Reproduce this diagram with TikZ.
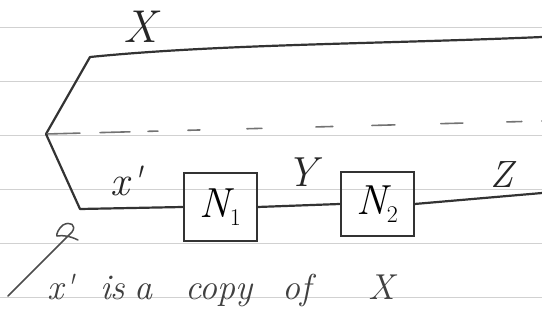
\documentclass[tikz,border=0pt]{standalone}
\usepackage{fontspec}
\newcommand{\subidx}[1]{\raisebox{-8pt}{\fontsize{24}{28}\selectfont\upshape #1}}
\newcommand{\pr}{\textquotesingle}
\begin{document}
\begin{tikzpicture}[x=1pt,y=-1pt,
  ink/.style={draw=black!80,line width=2.2pt,line cap=round,line join=round},
  thin ink/.style={draw=black!70,line width=1.5pt,line cap=round,line join=round},
  rule/.style={draw=black!18,line width=0.7pt},
  dashline/.style={draw=black!55,line width=1.6pt,line cap=round,
    dash pattern=on 34pt off 20pt on 30pt off 18pt on 10pt off 30pt on 12pt off 47pt on 15pt off 54pt on 17pt off 39pt on 23pt off 46pt on 22pt off 44pt on 15pt off 20pt},
  blk/.style={draw=black!80,line width=2pt,minimum width=73pt,minimum height=68pt,inner sep=0pt,
    font=\fontsize{42}{48}\selectfont\itshape},
  lbl/.style={text=black!85,inner sep=0pt,font=\fontsize{42}{48}\selectfont\itshape},
  note/.style={text=black!75,inner sep=0pt,font=\fontsize{36}{42}\selectfont\itshape}]
\useasboundingbox (0,0) rectangle (542,325);
\fill[white] (0,0) rectangle (542,325);
\foreach \yy in {27,81,135,189,243,297} \draw[rule] (0,\yy) -- (542,\yy);

% points
\coordinate (fork) at (46,134);
\coordinate (up) at (90,57);
\coordinate (xend) at (542,37);
\coordinate (lo) at (80,209);
\coordinate (dend) at (542,121);
\coordinate (zend) at (542,193);
\coordinate (tail) at (8,296);
\coordinate (tip) at (72,232);

% blocks
\node[blk] (n1) at (220,207) {N\subidx{1}};
\node[blk,minimum height=64pt] (n2) at (377,204) {N\subidx{2}};

% connectors
\draw[ink] (fork) -- (up) .. controls (220,44) and (380,44) .. (xend);
\draw[dashline] (fork) -- (dend);
\draw[ink] (fork) -- (lo) -- (n1.west);
\draw[ink] (n1.east) -- (n2.west);
\draw[ink] (n2.east) -- (zend);
\draw[thin ink] (tail) -- (tip) .. controls (77,225) and (70,221) .. (63,225)
   .. controls (59,228) and (56,234) .. (57,236) .. controls (63,235) and (70,236) .. (78,240);

% labels
\node[lbl,font=\fontsize{46}{52}\selectfont\itshape] (lx) at (140,27) {X};
\node[lbl] (lxp) at (126,181) {x\pr};
\node[lbl] (ly) at (302,172) {Y};
\node[lbl,font=\fontsize{38}{44}\selectfont\itshape] (lz) at (502,175) {Z};

% note
\node[note,anchor=base west] (txt) at (47,299)
  {\makebox[53pt][l]{x\pr}\makebox[34pt][l]{is}\makebox[51pt][l]{a}\makebox[97pt][l]{copy}\makebox[86pt][l]{of}X};
\end{tikzpicture}
\end{document}
